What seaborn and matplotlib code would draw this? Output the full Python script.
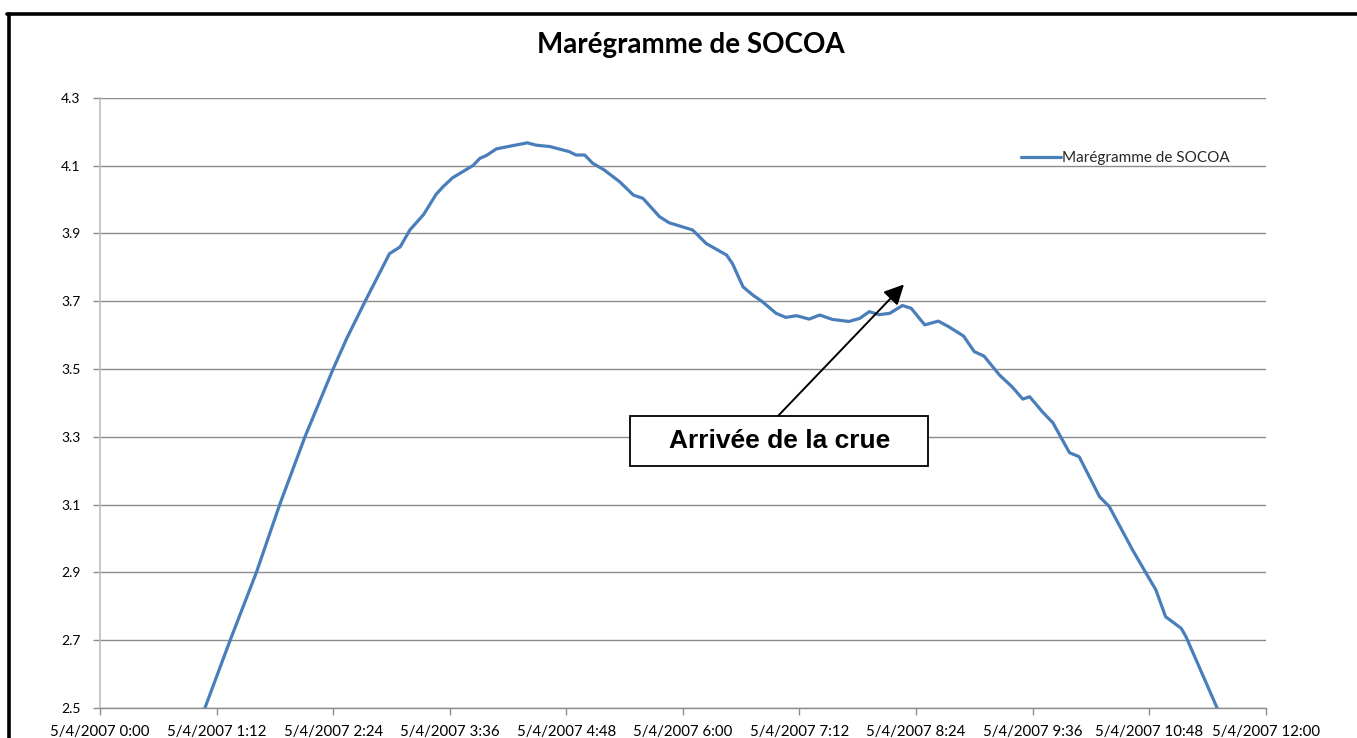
import numpy as np
import pandas as pd
import matplotlib
matplotlib.use('Agg')
import matplotlib.pyplot as plt
from matplotlib.patches import Rectangle
from matplotlib.lines import Line2D
import seaborn as sns


# water level (hours after 0:00, metres)
hours = [1.08, 1.34, 1.61, 1.85, 2.11, 2.40, 2.54, 2.73, 2.98, 3.09,
         3.19, 3.33, 3.46, 3.53, 3.63, 3.84, 3.91, 3.98, 4.08, 4.22,
         4.40, 4.49, 4.63, 4.83, 4.90, 4.99, 5.07, 5.19, 5.35, 5.49,
         5.59, 5.76, 5.86, 6.10, 6.24, 6.45, 6.51, 6.62, 6.72, 6.82,
         6.96, 7.06, 7.17, 7.30, 7.41, 7.54, 7.71, 7.82, 7.92, 8.02,
         8.13, 8.26, 8.35, 8.49, 8.63, 8.74, 8.89, 9.00, 9.10, 9.26,
         9.39, 9.50, 9.57, 9.70, 9.81, 9.98, 10.08, 10.29, 10.39, 10.63,
         10.77, 10.87, 10.97, 11.13, 11.18, 11.50]
level = [2.500, 2.700, 2.900, 3.100, 3.300, 3.500, 3.590, 3.700, 3.840, 3.860,
         3.910, 3.955, 4.015, 4.037, 4.064, 4.100, 4.121, 4.130, 4.149, 4.157,
         4.167, 4.160, 4.156, 4.141, 4.131, 4.131, 4.107, 4.087, 4.052, 4.013,
         4.003, 3.949, 3.931, 3.910, 3.870, 3.836, 3.811, 3.742, 3.718, 3.698,
         3.664, 3.652, 3.657, 3.647, 3.659, 3.646, 3.640, 3.649, 3.669, 3.660,
         3.664, 3.687, 3.679, 3.630, 3.641, 3.624, 3.597, 3.551, 3.538, 3.482,
         3.447, 3.411, 3.418, 3.374, 3.341, 3.253, 3.241, 3.123, 3.094, 2.966,
         2.897, 2.848, 2.769, 2.735, 2.710, 2.500]

x_ticks = [0, 1.2, 2.4, 3.6, 4.8, 6.0, 7.2, 8.4, 9.6, 10.8, 12.0]
x_labels = ['5/4/2007 0:00', '5/4/2007 1:12', '5/4/2007 2:24', '5/4/2007 3:36',
            '5/4/2007 4:48', '5/4/2007 6:00', '5/4/2007 7:12', '5/4/2007 8:24',
            '5/4/2007 9:36', '5/4/2007 10:48', '5/4/2007 12:00']
y_ticks = [2.5, 2.7, 2.9, 3.1, 3.3, 3.5, 3.7, 3.9, 4.1, 4.3]

title = 'Marégramme de SOCOA'
series_name = 'Marégramme de SOCOA'
note = 'Arrivée de la crue'

BLUE = '#4A7EBB'
GRID = '#8C8C8C'


def main():
    sns.set_theme(style='white')
    plt.rcParams['font.family'] = ['Lato', 'DejaVu Sans']

    df = pd.DataFrame({'t': hours, 'h': level})

    fig = plt.figure(figsize=(13.57, 7.38), dpi=100)
    ax = fig.add_axes([0.0737, 0.0407, 0.8590, 0.8269])

    sns.lineplot(data=df, x='t', y='h', ax=ax, color=BLUE, lw=2.3,
                 legend=False)

    ax.set_xlim(0, 12)
    ax.set_ylim(2.5, 4.3)
    ax.set_xticks(x_ticks)
    ax.set_xticklabels(x_labels, fontsize=10.8, color='black')
    ax.set_yticks(y_ticks)
    ax.set_yticklabels([f'{v:.1f}' for v in y_ticks], fontsize=10,
                       color='black')
    ax.set_xlabel('')
    ax.set_ylabel('')

    ax.grid(axis='y', color=GRID, lw=1.0)
    ax.grid(axis='x', visible=False)
    ax.set_axisbelow(True)
    for s in ['top', 'right']:
        ax.spines[s].set_visible(False)
    ax.spines['left'].set_color('#BDBDBD')
    ax.spines['left'].set_linewidth(1.2)
    ax.spines['bottom'].set_color(GRID)
    ax.spines['bottom'].set_linewidth(1.0)
    ax.tick_params(axis='x', direction='out', length=5, width=1.0,
                   color=GRID, pad=7, bottom=True)
    ax.tick_params(axis='y', direction='out', length=5, width=1.0,
                   color=GRID, pad=9, left=True)

    # legend, no frame, top right inside the plot
    handle = Line2D([], [], color=BLUE, lw=2.3)
    ax.legend([handle], [series_name], loc='upper left',
              bbox_to_anchor=(0.785, 0.922), frameon=False, fontsize=11,
              handlelength=2.6, handletextpad=0.1, borderaxespad=0)

    # annotation box with the arrow pointing at the flood arrival
    ax.add_patch(Rectangle((0.4547, 0.397), 0.2559, 0.082,
                           transform=ax.transAxes, facecolor='white',
                           edgecolor='black', lw=1.3, zorder=5))
    ax.text(0.5826, 0.437, note, transform=ax.transAxes, ha='center',
            va='center', fontsize=19, fontweight='bold', color='black',
            family=['Liberation Sans', 'DejaVu Sans'], zorder=6)
    ax.annotate('', xy=(0.6897, 0.694), xytext=(0.5819, 0.479),
                xycoords='axes fraction', textcoords='axes fraction',
                arrowprops=dict(arrowstyle='-|>', color='black', lw=1.4,
                                mutation_scale=30, shrinkA=0, shrinkB=0),
                zorder=6)

    fig.text(0.509, 0.939, title, ha='center', va='center', fontsize=20,
             fontweight='bold', color='black')

    # thick black frame of the pasted chart (only top and left are visible)
    fig.add_artist(Line2D([0.0066, 0.0066], [0.0, 0.9817],
                          transform=fig.transFigure, color='black', lw=2.6))
    fig.add_artist(Line2D([0.0055, 1.0], [0.9817, 0.9817],
                          transform=fig.transFigure, color='black', lw=2.6))

    fig.savefig('out.png', dpi=100, facecolor='white')
    plt.close(fig)


if __name__ == '__main__':
    main()
